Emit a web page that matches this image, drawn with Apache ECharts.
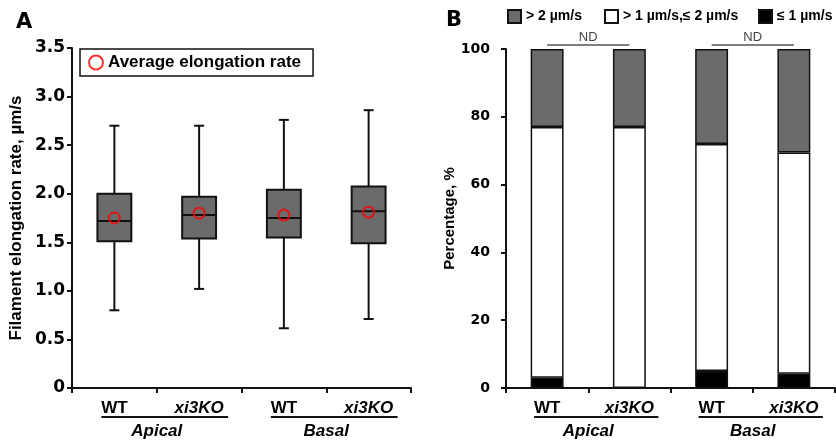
<!DOCTYPE html>
<html>
<head>
<meta charset="utf-8">
<script src="https://cdn.jsdelivr.net/npm/echarts@6/dist/echarts.min.js"></script>
<style>
  html, body { margin: 0; padding: 0; background: #fff; }
  #main { width: 836px; height: 440px; }
</style>
</head>
<body>
<div id="main"></div>
<script>
// categories
var categories = ['WT', 'xi3KO', 'WT', 'xi3KO'];
var groups = ['Apical', 'Basal'];
// panel A: [min, Q1, median, Q3, max]
var boxStats = [
  [0.80, 1.51, 1.72, 2.00, 2.70],
  [1.02, 1.54, 1.78, 1.97, 2.70],
  [0.615, 1.55, 1.75, 2.04, 2.76],
  [0.71, 1.49, 1.82, 2.075, 2.86]
];
var means = [1.75, 1.80, 1.78, 1.81];
// panel B: percentages
var pctLow = [3, 0, 5, 4.2];
var pctMid = [74, 77, 67, 65.3];
var pctHigh = [23, 23, 28, 30.5];
var binNames = ['> 2 µm/s', '> 1 µm/s,≤ 2 µm/s', '≤ 1 µm/s'];
var ndPairs = [[0, 1], [2, 3]];

var GRAY = '#6b6b6b';
var INK = '#111';
var FONT = 'Liberation Sans, Arial, sans-serif';
var WIDE = 'DejaVu Sans, sans-serif';

var chart = echarts.init(document.getElementById('main'));

function ln(x1, y1, x2, y2) {
  return { type: 'line', shape: { x1: x1, y1: y1, x2: x2, y2: y2 }, style: { stroke: INK, lineWidth: 2 } };
}

function renderBox(params, api) {
  var i = api.value(0);
  var w = api.size([1, 0])[0] * 0.4;
  var cap = 5;
  var lo = api.coord([i, api.value(1)]);
  var q1 = api.coord([i, api.value(2)]);
  var md = api.coord([i, api.value(3)]);
  var q3 = api.coord([i, api.value(4)]);
  var hi = api.coord([i, api.value(5)]);
  var cx = md[0];
  return {
    type: 'group',
    children: [
      ln(cx, hi[1], cx, q3[1]),
      ln(cx, q1[1], cx, lo[1]),
      ln(cx - cap, hi[1], cx + cap, hi[1]),
      ln(cx - cap, lo[1], cx + cap, lo[1]),
      {
        type: 'rect',
        shape: { x: cx - w / 2, y: q3[1], width: w, height: q1[1] - q3[1] },
        style: { fill: GRAY, stroke: INK, lineWidth: 2 }
      },
      ln(cx - w / 2, md[1], cx + w / 2, md[1])
    ]
  };
}

var labelRich = {
  n: { fontFamily: FONT, fontWeight: 'bold', fontSize: 17, color: '#000' },
  i: { fontFamily: FONT, fontWeight: 'bold', fontStyle: 'italic', fontSize: 17, color: '#000' }
};
function catFmt(v) {
  return v === 'WT' ? '{n|WT}' : '{i|' + v + '}';
}
var axisLine = { show: true, lineStyle: { color: INK, width: 2 } };
var axisTick = { show: true, length: 5, lineStyle: { color: INK, width: 2 } };

var option = {
  animation: false,
  textStyle: { fontFamily: FONT },
  title: [
    { text: 'A', left: 11, top: 7, textStyle: { fontFamily: WIDE, fontWeight: 'bold', fontSize: 21, color: '#000' } },
    { text: 'B', left: 441, top: 5, textStyle: { fontFamily: WIDE, fontWeight: 'bold', fontSize: 21, color: '#000' } }
  ],
  legend: [
    {
      left: 80, top: 49, padding: [5, 12, 5, 8], selectedMode: false,
      borderColor: INK, borderWidth: 1.5,
      itemWidth: 14, itemHeight: 14, itemGap: 6,
      textStyle: { fontFamily: FONT, fontWeight: 'bold', fontSize: 17, color: '#000' },
      data: [{ name: 'Average elongation rate', icon: 'circle', itemStyle: { color: '#fff', borderColor: '#f00', borderWidth: 2 } }]
    },
    {
      left: 507, top: 9, padding: 0, selectedMode: false, itemWidth: 13, itemHeight: 13,
      textStyle: { fontFamily: FONT, fontWeight: 'bold', fontSize: 14, color: '#000' },
      data: [{ name: binNames[0], icon: 'rect' }]
    },
    {
      left: 604, top: 9, padding: 0, selectedMode: false, itemWidth: 13, itemHeight: 13,
      textStyle: { fontFamily: FONT, fontWeight: 'bold', fontSize: 14, color: '#000' },
      data: [{ name: binNames[1], icon: 'rect' }]
    },
    {
      left: 758, top: 9, padding: 0, selectedMode: false, itemWidth: 13, itemHeight: 13,
      textStyle: { fontFamily: FONT, fontWeight: 'bold', fontSize: 14, color: '#000' },
      data: [{ name: binNames[2], icon: 'rect' }]
    }
  ],
  grid: [
    { left: 72, top: 48, width: 339, height: 340 },
    { left: 506, top: 49, width: 329, height: 340 }
  ],
  xAxis: [
    {
      type: 'category', gridIndex: 0, data: categories,
      axisLine: axisLine, axisTick: axisTick,
      axisLabel: { margin: 12, formatter: catFmt, rich: labelRich }
    },
    {
      type: 'category', gridIndex: 0, position: 'bottom', data: groups,
      axisLine: { show: false }, axisTick: { show: false },
      axisLabel: { margin: 35, fontFamily: FONT, fontWeight: 'bold', fontStyle: 'italic', fontSize: 17, color: '#000' }
    },
    {
      type: 'category', gridIndex: 1, data: categories,
      axisLine: axisLine, axisTick: axisTick,
      axisLabel: { margin: 12, formatter: catFmt, rich: labelRich }
    },
    {
      type: 'category', gridIndex: 1, position: 'bottom', data: groups,
      axisLine: { show: false }, axisTick: { show: false },
      axisLabel: { margin: 35, fontFamily: FONT, fontWeight: 'bold', fontStyle: 'italic', fontSize: 17, color: '#000' }
    }
  ],
  yAxis: [
    {
      type: 'value', gridIndex: 0, min: 0, max: 3.5, interval: 0.5,
      name: 'Filament elongation rate, µm/s', nameLocation: 'middle', nameGap: 47,
      nameTextStyle: { fontFamily: FONT, fontWeight: 'bold', fontSize: 17, color: '#000' },
      axisLine: axisLine, axisTick: axisTick, splitLine: { show: false },
      axisLabel: {
        margin: 7, fontFamily: WIDE, fontWeight: 'bold', fontSize: 17, color: '#000',
        formatter: function (v) { return v === 0 ? '0' : v.toFixed(1); }
      }
    },
    {
      type: 'value', gridIndex: 1, min: 0, max: 100, interval: 20,
      name: 'Percentage, %', nameLocation: 'middle', nameGap: 45,
      nameTextStyle: { fontFamily: FONT, fontWeight: 'bold', fontSize: 15, color: '#000' },
      axisLine: axisLine, axisTick: axisTick, splitLine: { show: false },
      axisLabel: { margin: 16, fontFamily: WIDE, fontWeight: 'bold', fontSize: 14, color: '#000' }
    }
  ],
  series: [
    {
      type: 'custom', name: 'box', xAxisIndex: 0, yAxisIndex: 0,
      renderItem: renderBox,
      encode: { x: 0, y: [1, 2, 3, 4, 5] },
      data: boxStats.map(function (s, i) { return [i].concat(s); }),
      z: 2
    },
    {
      type: 'scatter', name: 'Average elongation rate', xAxisIndex: 0, yAxisIndex: 0,
      symbol: 'circle', symbolSize: 11,
      itemStyle: { color: 'rgba(0,0,0,0)', borderColor: '#f00', borderWidth: 2 },
      data: means.map(function (m, i) { return [i, m]; }),
      z: 5
    },
    {
      type: 'bar', name: binNames[2], xAxisIndex: 2, yAxisIndex: 1, stack: 'pct',
      barWidth: '40%', data: pctLow,
      itemStyle: { color: '#000', borderColor: INK, borderWidth: 1.5 }
    },
    {
      type: 'bar', name: binNames[1], xAxisIndex: 2, yAxisIndex: 1, stack: 'pct',
      barWidth: '40%', data: pctMid,
      itemStyle: { color: '#fff', borderColor: INK, borderWidth: 1.5 }
    },
    {
      type: 'bar', name: binNames[0], xAxisIndex: 2, yAxisIndex: 1, stack: 'pct',
      barWidth: '40%', data: pctHigh,
      itemStyle: { color: GRAY, borderColor: INK, borderWidth: 1.5 }
    }
  ]
};
chart.setOption(option);

// group underlines and ND brackets, placed through the axes
var graphics = [];
[0, 1].forEach(function (gi) {
  var base = chart.convertToPixel({ gridIndex: gi }, [0, 0])[1];
  [[0, 1], [2, 3]].forEach(function (pair) {
    var a = chart.convertToPixel({ gridIndex: gi }, [pair[0], 0]);
    var b = chart.convertToPixel({ gridIndex: gi }, [pair[1], 0]);
    graphics.push({
      type: 'line', shape: { x1: a[0] - 13, y1: base + 29, x2: b[0] + 29, y2: base + 29 },
      style: { stroke: INK, lineWidth: 2 }
    });
  });
});
ndPairs.forEach(function (pair) {
  var a = chart.convertToPixel({ gridIndex: 1 }, [pair[0], 100]);
  var b = chart.convertToPixel({ gridIndex: 1 }, [pair[1], 100]);
  var y = a[1] - 4;
  graphics.push({
    type: 'line', shape: { x1: a[0], y1: y, x2: b[0], y2: y },
    style: { stroke: '#555', lineWidth: 1.5 }
  });
  graphics.push({
    type: 'text', x: (a[0] + b[0]) / 2, y: y - 1,
    style: { text: 'ND', fill: '#444', font: '13px ' + FONT, textAlign: 'center', textVerticalAlign: 'bottom' }
  });
});
chart.setOption({ graphic: graphics });
</script>
</body>
</html>
